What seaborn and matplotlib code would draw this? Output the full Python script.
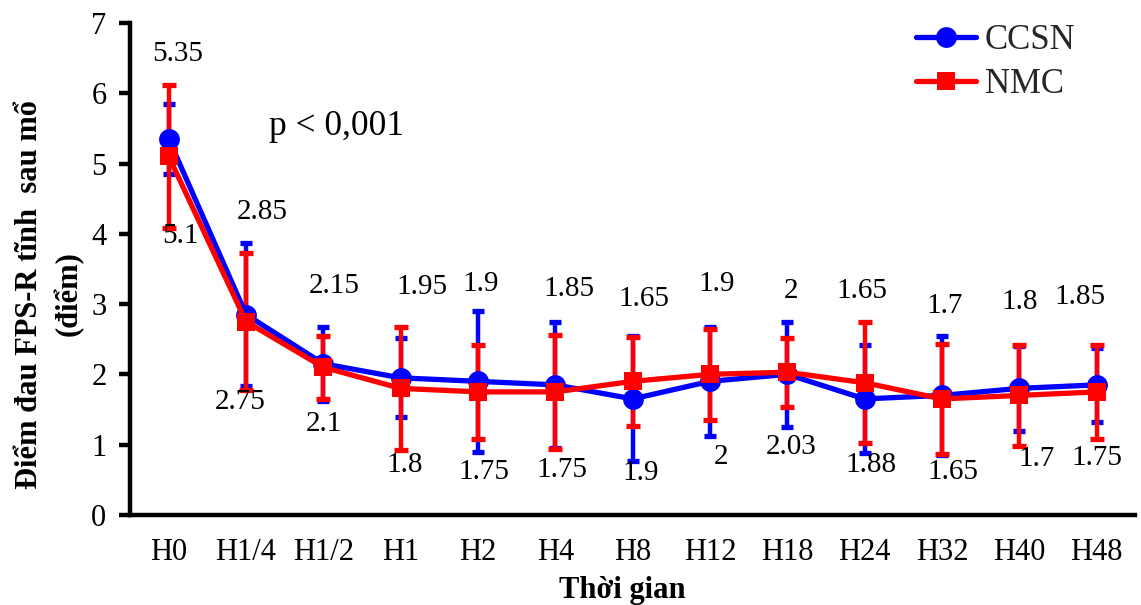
import numpy as np
import pandas as pd
import matplotlib
matplotlib.use("Agg")
import matplotlib.pyplot as plt
import seaborn as sns

# ---------------- data ----------------
times = ["H0", "H1/4", "H1/2", "H1", "H2", "H4", "H8", "H12", "H18", "H24", "H32", "H40", "H48"]
ccsn_mean = [5.35, 2.85, 2.15, 1.95, 1.9, 1.85, 1.65, 1.9, 2.0, 1.65, 1.7, 1.8, 1.85]
ccsn_sd = [0.50, 1.02, 0.53, 0.56, 1.00, 0.90, 0.89, 0.78, 0.75, 0.77, 0.85, 0.60, 0.53]
nmc_mean = [5.1, 2.75, 2.1, 1.8, 1.75, 1.75, 1.9, 2.0, 2.03, 1.88, 1.65, 1.7, 1.75]
nmc_sd = [1.02, 0.98, 0.45, 0.88, 0.67, 0.81, 0.63, 0.65, 0.49, 0.86, 0.78, 0.72, 0.67]
series_names = ["CCSN", "NMC"]
y_ticks = [0, 1, 2, 3, 4, 5, 6, 7]
annotation = "p < 0,001"
x_title = "Thời gian"
y_title = "Điểm đau FPS-R tĩnh  sau mổ\n(điểm)"

# ---------------- layout (label placement) ----------------
ccsn_lab_dx = [0.12, 0.21, 0.14, 0.27, 0.04, 0.18, 0.14, 0.08, 0.05, -0.04, 0.04, 0.01, -0.21]
ccsn_lab_y = [6.56, 4.31, 3.26, 3.24, 3.29, 3.21, 3.07, 3.29, 3.19, 3.19, 2.97, 3.03, 3.10]
nmc_lab_dx = [0.15, -0.08, 0.01, 0.05, 0.08, 0.09, 0.10, 0.14, 0.05, 0.08, 0.14, 0.22, 0.01]
nmc_lab_y = [3.97, 1.61, 1.29, 0.71, 0.61, 0.64, 0.60, 0.83, 0.96, 0.71, 0.61, 0.79, 0.81]

BLUE = "#0000FF"
RED = "#FF0000"

sns.set_theme(style="white")
plt.rcParams["font.family"] = ["Liberation Serif", "DejaVu Serif"]

df = pd.DataFrame({
    "idx": np.arange(len(times)),
    "time": times,
    "ccsn": ccsn_mean,
    "ccsn_sd": ccsn_sd,
    "nmc": nmc_mean,
    "nmc_sd": nmc_sd,
})

fig = plt.figure(figsize=(11.41, 6.05), dpi=100)
ax = fig.add_axes([0.114, 0.149, 0.881, 0.813])

# error bars (behind lines)
ax.errorbar(df["idx"], df["ccsn"], yerr=df["ccsn_sd"], fmt="none", ecolor=BLUE,
            elinewidth=3.2, capsize=4.5, capthick=3.8, zorder=2)
ax.errorbar(df["idx"], df["nmc"], yerr=df["nmc_sd"], fmt="none", ecolor=RED,
            elinewidth=3.2, capsize=4.8, capthick=3.8, zorder=2.5)

sns.lineplot(data=df, x="idx", y="ccsn", color=BLUE, marker="o", markersize=15,
             markeredgewidth=0, linewidth=3.8, label=series_names[0], ax=ax, zorder=3)
sns.lineplot(data=df, x="idx", y="nmc", color=RED, marker="s", markersize=13,
             markeredgewidth=0, linewidth=3.8, label=series_names[1], ax=ax, zorder=4)

# value labels
for i in range(len(times)):
    ax.text(df["idx"][i] + ccsn_lab_dx[i], ccsn_lab_y[i], f"{ccsn_mean[i]:g}",
            ha="center", va="center", fontsize=21, color="black", zorder=5)
    ax.text(df["idx"][i] + nmc_lab_dx[i], nmc_lab_y[i], f"{nmc_mean[i]:g}",
            ha="center", va="center", fontsize=21, color="black", zorder=5)

ax.text(2.17, 5.53, annotation, ha="center", va="center", fontsize=25.5, color="black")

# axes styling
ax.set_xlim(-0.5, len(times) - 0.5)
ax.set_ylim(0, 7)
ax.set_yticks(y_ticks)
ax.set_xticks(df["idx"])
ax.set_xticklabels(times)
ax.set_xticks(np.arange(-0.5, len(times), 1), minor=True)
ax.tick_params(axis="x", which="major", length=0, pad=17, labelsize=22, colors="black")
ax.tick_params(axis="x", which="minor", length=10, width=3.2, direction="out", color="black")
ax.tick_params(axis="y", which="major", length=8, width=3.2, direction="out", pad=9,
               labelsize=22, colors="black", left=True)
for s in ["top", "right"]:
    ax.spines[s].set_visible(False)
for s in ["left", "bottom"]:
    ax.spines[s].set_linewidth(3.2)
    ax.spines[s].set_color("black")
ax.grid(False)

ax.set_xlabel(x_title, fontsize=22, fontweight="bold", color="black")
ax.xaxis.set_label_coords(0.49, -0.124)
ax.set_ylabel(y_title, fontsize=22, fontweight="bold", color="black", linespacing=1.4)
ax.yaxis.set_label_coords(-0.046, 0.449)

leg = ax.legend(loc="upper right", bbox_to_anchor=(1093 / 1141, 1 - 7 / 605),
                bbox_transform=fig.transFigure, frameon=False, fontsize=25,
                handlelength=1.75, handletextpad=0.25, labelspacing=0.3, borderpad=0)

fig.savefig("out.png", dpi=100)
